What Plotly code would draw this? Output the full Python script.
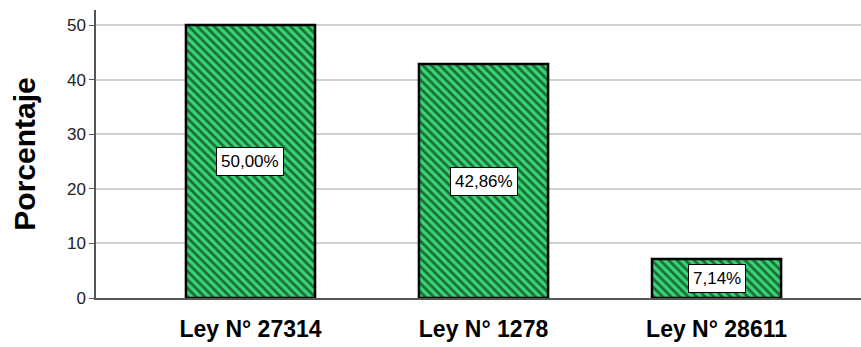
import plotly.graph_objects as go

categories = ["Ley N° 27314", "Ley N° 1278", "Ley N° 28611"]
values = [50.00, 42.86, 7.14]
labels = ["50,00%", "42,86%", "7,14%"]
y_ticks = [0, 10, 20, 30, 40, 50]

FONT = "Liberation Sans, Arial, sans-serif"

fig = go.Figure()
fig.add_trace(go.Bar(
    x=[0, 1, 2], y=values, width=0.554,
    marker=dict(color="#2ecc6a", line=dict(color="black", width=2.5),
                pattern=dict(shape="\\", fgcolor="black", bgcolor="#36d672",
                             size=6, solidity=0.45, fillmode="overlay")),
    hoverinfo="skip",
))
for i, (v, t) in enumerate(zip(values, labels)):
    fig.add_annotation(x=i, y=v / 2, text=t, showarrow=False,
                       bgcolor="white", bordercolor="black", borderwidth=1,
                       borderpad=4,
                       font=dict(family=FONT, size=17, color="black"))

fig.update_layout(
    width=861, height=347,
    margin=dict(l=96, r=0, t=10, b=49),
    plot_bgcolor="white", paper_bgcolor="white",
    showlegend=False,
    xaxis=dict(tickmode="array", tickvals=[0, 1, 2],
               ticktext=["<b>" + c + "</b>" for c in categories],
               range=[-0.663, 2.62], showgrid=False, zeroline=False,
               showline=True, linecolor="#555", linewidth=1.5, ticks="",
               tickfont=dict(family=FONT, size=23, color="black"),
               ticklabelstandoff=10),
    yaxis=dict(range=[0, 52.75], tickvals=y_ticks, showgrid=True,
               gridcolor="#d0d0d0", gridwidth=1.5, zeroline=False,
               showline=True, linecolor="#555", linewidth=1.5,
               ticks="outside", ticklen=5, tickcolor="#555",
               tickfont=dict(family=FONT, size=17, color="#222"),
               title=dict(text="<b>Porcentaje</b>", standoff=22,
                          font=dict(family=FONT, size=30, color="black"))),
)
fig.write_html("out.html")
